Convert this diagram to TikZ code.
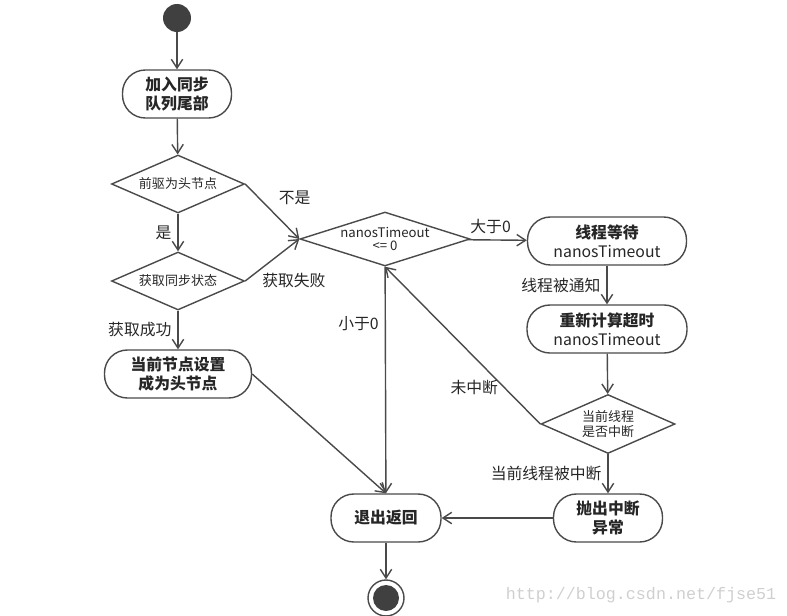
\documentclass[tikz,border=0pt]{standalone}
\usepackage{fontspec}
\setmainfont{Noto Sans CJK SC}
\newfontfamily\wmfont{Liberation Mono}
\usetikzlibrary{shapes.geometric,arrows.meta}
\definecolor{linegray}{HTML}{4A4A4A}
\definecolor{dotgray}{HTML}{404040}
\definecolor{wmgray}{HTML}{CFCFCF}

\begin{document}
\begin{tikzpicture}[x=0.02cm,y=-0.02cm,
  flow/.style={draw=linegray, line width=0.8pt, -{Straight Barb[length=5pt,width=6.5pt]}},
  action/.style={draw=linegray, line width=0.8pt, rounded corners=13pt, minimum width=2.18cm,
    minimum height=0.96cm, inner sep=1pt, align=center, text=black!85,
    font=\fontsize{9}{11}\selectfont},
  decision/.style={draw=linegray, line width=0.8pt, diamond, aspect=2.3, inner sep=0pt,
    align=center, text=black!85, font=\fontsize{7.4}{8.6}\selectfont},
  lbl/.style={font=\fontsize{9}{10}\selectfont, text=black!85},
]
\useasboundingbox (0,0) rectangle (787,615);

% left column
\node[circle, fill=dotgray, minimum size=0.56cm, inner sep=0pt] (start) at (177,18) {};
\node[action] (enq) at (177,94) {\textbf{加入同步}\\\textbf{队列尾部}};
\node[decision, minimum width=2.66cm, minimum height=1.16cm] (pred) at (178,184) {前驱为头节点};
\node[decision, minimum width=2.66cm, minimum height=1.16cm] (acq) at (178,281) {获取同步状态};
\node[action, minimum width=2.94cm] (sethead) at (178,374) {\textbf{当前节点设置}\\\textbf{成为头节点}};

% middle column
\node[decision, aspect=3.15, inner sep=-1pt, minimum width=3.4cm, minimum height=1.08cm,
  font=\fontsize{7.5}{7.6}\selectfont] (tout) at (385,239) {nanosTimeout\\<= 0};
\node[action, minimum width=2.2cm] (exit) at (386,518) {\textbf{退出返回}};
\node[circle, draw=linegray, line width=0.8pt, minimum size=0.72cm, inner sep=0pt] (endo) at (386,598) {};
\node[circle, fill=dotgray, minimum size=0.52cm, inner sep=0pt] (endi) at (386,598) {};

% right column
\node[action, minimum width=3.18cm] (wait) at (607,241) {\textbf{线程等待}\\nanosTimeout};
\node[action, minimum width=3.2cm] (recalc) at (607,329) {\textbf{重新计算超时}\\nanosTimeout};
\node[decision, minimum width=2.68cm, minimum height=1.18cm] (intr) at (608,424) {当前线程\\是否中断};
\node[action] (throw) at (608,518) {\textbf{抛出中断}\\\textbf{异常}};

% connectors
\draw[flow] (start) -- (enq);
\draw[flow] (enq) -- (pred);
\draw[flow] (pred) -- node[lbl, left] {是} (acq);
\draw[flow] (pred.east) -- node[lbl, above right] {不是} (tout.west);
\draw[flow] (acq.east) -- node[lbl, pos=0, anchor=west, xshift=6pt] {获取失败} (tout.west);
\draw[flow] (acq) -- node[lbl, left] {获取成功} (sethead);
\draw[flow] (sethead.east) -- (exit.north);
\draw[flow] (tout) -- node[lbl, left, pos=0.25] {小于0} (exit);
\draw[flow] (tout) -- node[lbl, above, pos=0.38] {大于0} (wait);
\draw[flow] (wait) -- node[lbl, left] {线程被通知} (recalc);
\draw[flow] (recalc) -- (intr);
\draw[flow] (intr.west) -- node[lbl, left, pos=0.23] {未中断} (tout.south);
\draw[flow] (intr) -- node[lbl, left] {当前线程被中断} (throw);
\draw[flow] (throw) -- (exit);
\draw[flow] (exit) -- (endo);

\node[font=\wmfont\fontsize{9.5}{11}\selectfont, text=wmgray] (wm) at (641,595) {http://blog.csdn.net/fjse51};
\end{tikzpicture}
\end{document}
